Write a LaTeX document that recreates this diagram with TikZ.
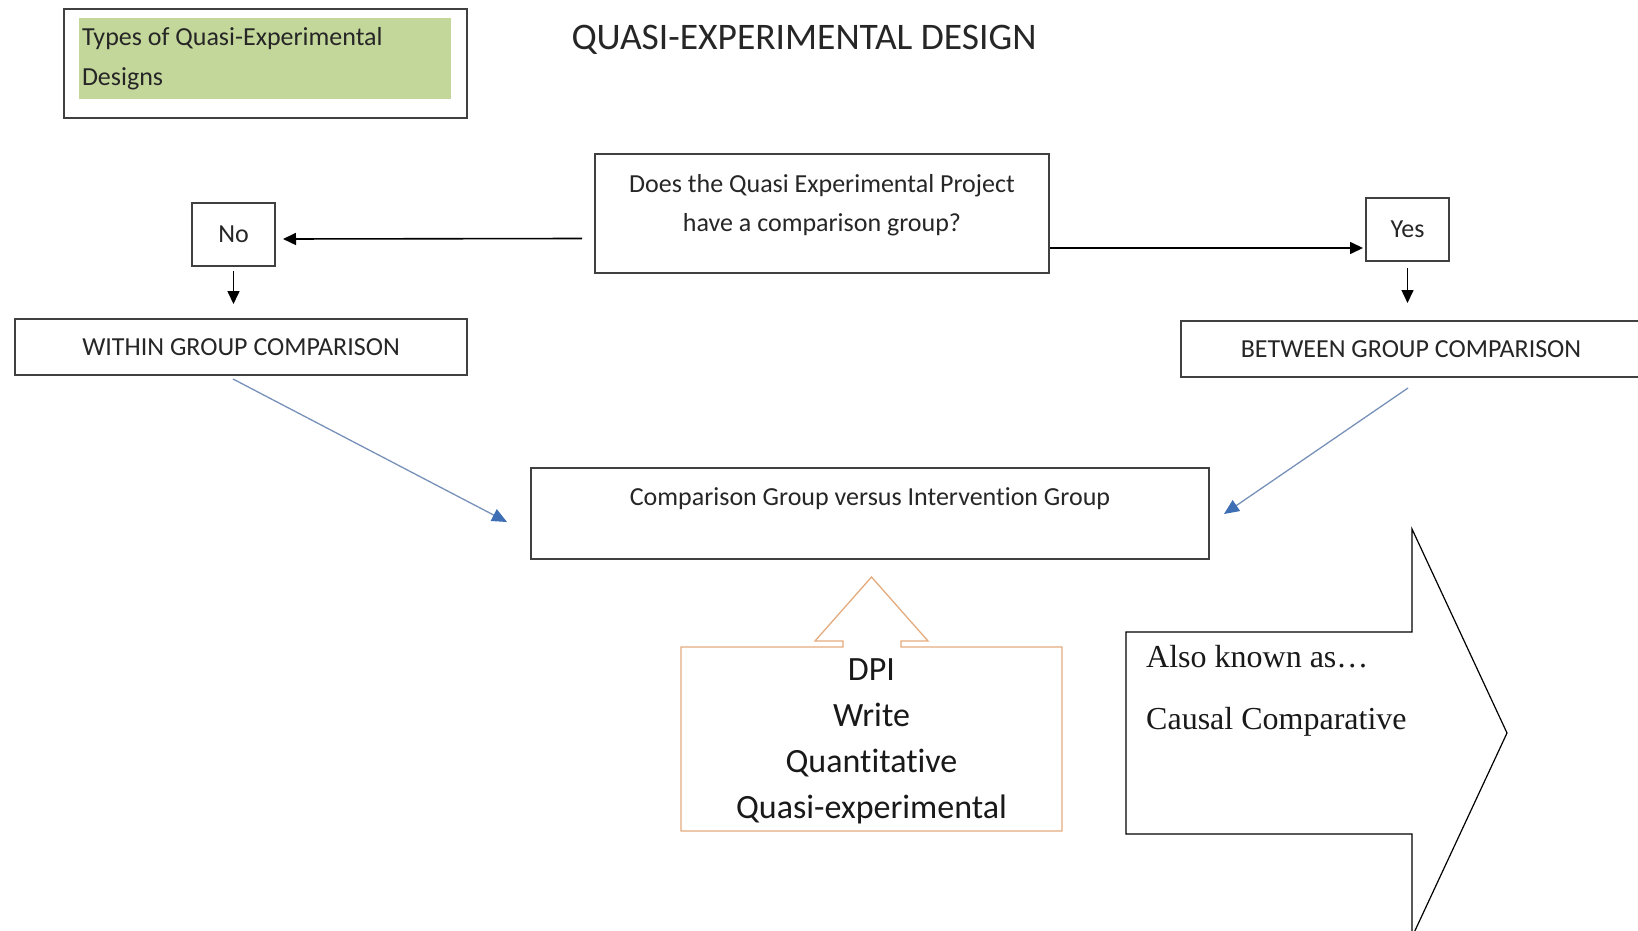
\documentclass[tikz,border=0pt]{standalone}
\usepackage{fontspec}
\setmainfont{Carlito}[Ligatures=NoCommon]
\newfontfamily\timesfont{Liberation Serif}
\usetikzlibrary{arrows.meta}
\definecolor{boxgreen}{RGB}{196,215,155}
\definecolor{dpiorange}{RGB}{228,172,126}
\definecolor{linkblue}{RGB}{120,145,185}
\definecolor{tipblue}{RGB}{62,110,180}
\definecolor{boxgray}{RGB}{64,64,64}

\begin{document}
\begin{tikzpicture}[x=1pt, y=-1pt,
  box/.style={draw=boxgray, line width=2pt, inner sep=0pt},
  txt/.style={font=\fontsize{26}{39}\selectfont, text=black!85},
  arr/.style={line width=1.6pt, -{Triangle[length=13pt,width=12pt]}},
  bluearr/.style={draw=linkblue, line width=1.3pt, -{Triangle[length=15pt,width=13pt,color=tipblue]}}]
\fill[white] (0,0) rectangle (1638,931);
\useasboundingbox (0,0) rectangle (1638,931);

\node[box, minimum width=403pt, minimum height=109pt] (frame) at (265.5,63.5) {};
\node[fill=boxgreen, minimum width=372pt, minimum height=81pt, text width=366pt, inner xsep=3pt, inner ysep=0pt, align=flush left, font=\fontsize{26}{40}\selectfont, text=black!85] (types) at (265,58.5) {Types of Quasi-Experimental\\Designs};
\node[anchor=base, inner sep=0pt, font=\fontsize{37.5}{44}\selectfont, text=black!85] (title) at (804,50) {QUASI-EXPERIMENTAL DESIGN};

\node[box, minimum width=454pt, minimum height=119pt] (q) at (822,213.5) {};
\node[txt, align=center, inner sep=0pt] (qtext) at (822,205) {Does the Quasi Experimental Project\\have a comparison group?};
\node[box, txt, minimum width=83pt, minimum height=63pt] (no) at (233.5,234.5) {No};
\node[box, txt, minimum width=83pt, minimum height=63pt] (yes) at (1407.5,229.5) {Yes};
\node[box, txt, minimum width=452pt, minimum height=56pt] (within) at (241,347) {WITHIN GROUP COMPARISON};
\node[box, txt, minimum width=460pt, minimum height=56pt] (between) at (1411,349) {BETWEEN GROUP COMPARISON};
\node[box, minimum width=678pt, minimum height=91pt] (cmp) at (870,513.5) {};
\node[txt, anchor=base, inner sep=0pt] (cmptext) at (870,505) {Comparison Group versus Intervention Group};

\draw[arr] ([shift={(-12,25)}]q.west) -- ([shift={(7,4.5)}]no.east);
\draw[arr] ([shift={(0,34.5)}]q.east) -- ([shift={(-2,18.5)}]yes.west);
\draw[arr, shorten <=4pt, shorten >=14pt] (no.south) -- (no.south |- within.north);
\draw[arr, shorten <=6pt, shorten >=17pt] (yes.south) -- (yes.south |- between.north);
\draw[bluearr] ([shift={(-8,3)}]within.south) -- ([shift={(-23,8.5)}]cmp.west);
\draw[bluearr] ([shift={(-3,10)}]between.south) -- ([shift={(14,0.5)}]cmp.east);

\draw[dpiorange, line width=1.3pt] (681,647) -- (843,647) -- (843,641) -- (815,641) -- (871.5,577) -- (928,641) -- (901,641) -- (901,647) -- (1062,647) -- (1062,831) -- (681,831) -- cycle;
\node[align=center, inner sep=0pt, font=\fontsize{34}{46}\selectfont, text=black!90] (dpi) at (871.5,741.5) {DPI\\Write\\Quantitative\\Quasi-experimental};

\draw[line width=1.2pt, fill=white] (1126,632) -- (1412,632) -- (1412,529) -- (1507,733) -- (1412,937) -- (1412,834) -- (1126,834) -- cycle;
\node[anchor=base west, inner sep=0pt, font=\timesfont\fontsize{32}{38}\selectfont, text=black!90] (aka) at (1146,667) {Also known as…};
\node[anchor=base west, inner sep=0pt, font=\timesfont\fontsize{32}{38}\selectfont, text=black!90] (causal) at (1146,729) {Causal Comparative};
\end{tikzpicture}
\end{document}
